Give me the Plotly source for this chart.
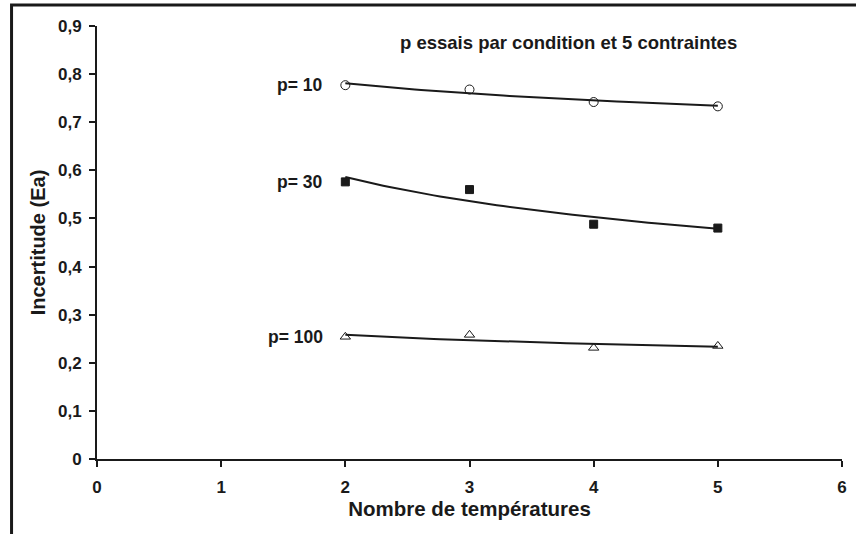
import numpy as np
import plotly.graph_objects as go

x_temps = [2, 3, 4, 5]
p10 = [0.777, 0.768, 0.742, 0.733]
p30 = [0.576, 0.560, 0.488, 0.480]
p100 = [0.254, 0.258, 0.231, 0.235]
series_labels = ["p= 10", "p= 30", "p= 100"]
series_symbols = ["circle-open", "square", "triangle-up-open"]
title_text = "p essais par condition et 5 contraintes"
x_title = "Nombre de températures"
y_title = "Incertitude (Ea)"
x_ticks = [0, 1, 2, 3, 4, 5, 6]
y_ticks = [0, 0.1, 0.2, 0.3, 0.4, 0.5, 0.6, 0.7, 0.8, 0.9]
y_ticklabels = ["0", "0,1", "0,2", "0,3", "0,4", "0,5", "0,6", "0,7", "0,8", "0,9"]

FONT = "Liberation Sans, Arial, sans-serif"
INK = "#1a1a1a"

def power_fit(x, y, xs):
    b, a = np.polyfit(np.log(x), np.log(y), 1)
    return np.exp(a) * np.power(xs, b)

fig = go.Figure()
xs = np.linspace(min(x_temps), max(x_temps), 60)
for vals, lab, sym in zip([p10, p30, p100], series_labels, series_symbols):
    fig.add_trace(go.Scatter(x=xs, y=power_fit(np.array(x_temps, float), np.array(vals), xs),
                             mode="lines", line=dict(color=INK, width=2),
                             showlegend=False, hoverinfo="skip"))
    fig.add_trace(go.Scatter(x=x_temps, y=vals, mode="markers", name=lab,
                             marker=dict(symbol=sym, size=9 if sym != "square" else 8,
                                         color=INK,
                                         line=dict(color=INK, width=1)),
                             showlegend=False))
    fig.add_annotation(x=x_temps[0], y=vals[0], text="<b>%s</b>" % lab, showarrow=False,
                       xanchor="right", yanchor="middle", xshift=-20, yshift=0,
                       font=dict(family=FONT, size=17.5, color=INK))

fig.add_annotation(x=0.633, y=1.0, xref="paper", yref="paper", text="<b>%s</b>" % title_text,
                   showarrow=False, xanchor="center", yanchor="middle", yshift=-16,
                   font=dict(family=FONT, size=18.5, color=INK))

fig.add_shape(type="rect", xref="paper", yref="paper", x0=-0.1147, x1=1.05, y0=-0.3, y1=1.0485,
              line=dict(color=INK, width=3), fillcolor="rgba(0,0,0,0)", layer="below")

axis_common = dict(showgrid=False, zeroline=False, showline=True, linecolor=INK, linewidth=2,
                   ticks="outside", tickcolor=INK, tickwidth=2,
                   tickfont=dict(family=FONT, size=17, color=INK))
fig.update_layout(
    width=856, height=534,
    margin=dict(l=97, r=9, t=26, b=75),
    paper_bgcolor="white", plot_bgcolor="white",
    xaxis=dict(range=[0, 6], tickvals=x_ticks, ticktext=["<b>%d</b>" % v for v in x_ticks],
               ticklen=6, ticklabelstandoff=6,
               title=dict(text="<b>%s</b>" % x_title, standoff=2,
                          font=dict(family=FONT, size=20.5, color=INK)), **axis_common),
    yaxis=dict(range=[0, 0.9], tickvals=y_ticks, ticktext=["<b>%s</b>" % t for t in y_ticklabels],
               ticklen=6, ticklabelstandoff=4,
               title=dict(text="<b>%s</b>" % y_title, standoff=7,
                          font=dict(family=FONT, size=20, color=INK)), **axis_common),
)
fig.write_html("out.html", config={"displayModeBar": False},
               post_script="document.body.style.margin='0px';")
